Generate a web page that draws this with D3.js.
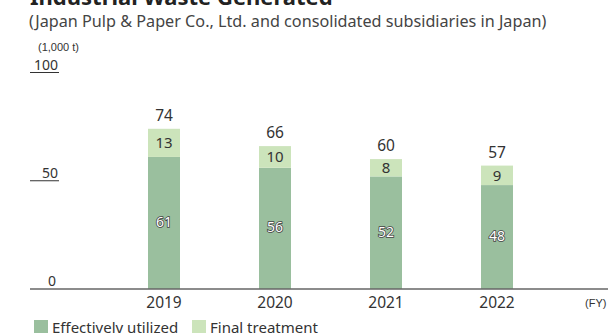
<!DOCTYPE html>
<html>
<head>
<meta charset="utf-8">
<script src="https://cdn.jsdelivr.net/npm/d3@7"></script>
<style>
  body { margin: 0; background: #fff; }
  svg { display: block; }
  text { font-family: "Noto Sans", Lato, sans-serif; }
</style>
</head>
<body>
<script>
// data (1,000 t)
var years = ["2019", "2020", "2021", "2022"];
var effective = [61, 56, 52, 48];
var finalTreat = [13, 10, 8, 9];
var totals = [74, 66, 60, 57];
var yTicks = [0, 50, 100];
var seriesNames = ["Effectively utilized", "Final treatment"];

var width = 608, height = 333;
var darkGreen = "#9abf9e", lightGreen = "#cce4bb", ink = "#333";

var svg = d3.select("body").append("svg")
    .attr("width", width)
    .attr("height", height);

var x = d3.scalePoint()
    .domain(years)
    .range([108.5, 552.5])
    .padding(0.5);

var y = d3.scaleLinear()
    .domain([0, 100])
    .range([289, 72.5]);

var barW = 32;

// titles
svg.append("text")
    .attr("x", 30).attr("y", 5)
    .style("font-size", "22px").style("font-weight", "bold")
    .style("fill", "#222")
    .text("Industrial Waste Generated");

svg.append("text")
    .attr("x", 29).attr("y", 27)
    .style("font-size", "16.2px")
    .style("fill", "#444")
    .text("(Japan Pulp & Paper Co., Ltd. and consolidated subsidiaries in Japan)");

svg.append("text")
    .attr("x", 38).attr("y", 51)
    .style("font-family", "'Liberation Sans', Arial, sans-serif")
    .style("font-size", "11px")
    .style("fill", ink)
    .text("(1,000 t)");

// y ticks: short underline with label sitting on it
var ticks = svg.append("g").selectAll("g")
    .data(yTicks.filter(function(d) { return d > 0; }))
    .enter().append("g");

ticks.append("line")
    .attr("x1", 30).attr("x2", 59)
    .attr("y1", function(d) { return y(d); })
    .attr("y2", function(d) { return y(d); })
    .style("stroke", ink).style("stroke-width", 1);

ticks.append("text")
    .attr("x", 58)
    .attr("y", function(d) { return y(d) - 3; })
    .attr("text-anchor", "end")
    .style("font-size", "14px")
    .style("fill", ink)
    .text(function(d) { return d; });

svg.append("text")
    .attr("x", 56).attr("y", y(0) - 3)
    .attr("text-anchor", "end")
    .style("font-size", "14px")
    .style("fill", ink)
    .text("0");

// bars
var bars = svg.append("g").selectAll("g")
    .data(years)
    .enter().append("g");

bars.append("rect")
    .attr("x", function(d) { return x(d) - barW / 2; })
    .attr("width", barW)
    .attr("y", function(d, i) { return y(effective[i]); })
    .attr("height", function(d, i) { return y(0) - y(effective[i]); })
    .style("fill", darkGreen);

bars.append("rect")
    .attr("x", function(d) { return x(d) - barW / 2; })
    .attr("width", barW)
    .attr("y", function(d, i) { return y(effective[i] + finalTreat[i]); })
    .attr("height", function(d, i) { return y(effective[i]) - y(effective[i] + finalTreat[i]); })
    .style("fill", lightGreen);

// white labels with dark outline inside lower segment
bars.append("text")
    .attr("x", function(d) { return x(d); })
    .attr("y", function(d, i) { return (y(0) + y(effective[i])) / 2 + 4; })
    .attr("text-anchor", "middle")
    .style("font-size", "14px")
    .style("fill", "#fff")
    .style("stroke", "#444")
    .style("stroke-width", 1.6)
    .style("paint-order", "stroke")
    .text(function(d, i) { return effective[i]; });

bars.append("text")
    .attr("x", function(d) { return x(d); })
    .attr("y", function(d, i) { return (y(effective[i]) + y(effective[i] + finalTreat[i])) / 2 + 5.5; })
    .attr("text-anchor", "middle")
    .style("font-size", "15px")
    .style("fill", ink)
    .text(function(d, i) { return finalTreat[i]; });

bars.append("text")
    .attr("x", function(d) { return x(d); })
    .attr("y", function(d, i) { return y(totals[i]) - 8; })
    .attr("text-anchor", "middle")
    .style("font-size", "15.5px")
    .style("fill", ink)
    .text(function(d, i) { return totals[i]; });

// x axis
svg.append("line")
    .attr("x1", 30).attr("x2", width)
    .attr("y1", y(0)).attr("y2", y(0))
    .style("stroke", "#666").style("stroke-width", 1.5);

svg.append("g").selectAll("text")
    .data(years)
    .enter().append("text")
    .attr("x", function(d) { return x(d); })
    .attr("y", 308)
    .attr("text-anchor", "middle")
    .style("font-size", "15.5px")
    .style("fill", ink)
    .text(function(d) { return d; });

svg.append("text")
    .attr("x", 585).attr("y", 307)
    .style("font-family", "'Liberation Sans', Arial, sans-serif")
    .style("font-size", "11px")
    .style("fill", ink)
    .text("(FY)");

// legend
var legendX = [34, 192];
var legend = svg.append("g").selectAll("g")
    .data(seriesNames)
    .enter().append("g")
    .attr("transform", function(d, i) { return "translate(" + legendX[i] + ",320)"; });

legend.append("rect")
    .attr("width", 14).attr("height", 14)
    .style("fill", function(d, i) { return i == 0 ? darkGreen : lightGreen; });

legend.append("text")
    .attr("x", 18).attr("y", 13)
    .style("font-size", "15px")
    .style("fill", ink)
    .text(function(d) { return d; });
</script>
</body>
</html>
